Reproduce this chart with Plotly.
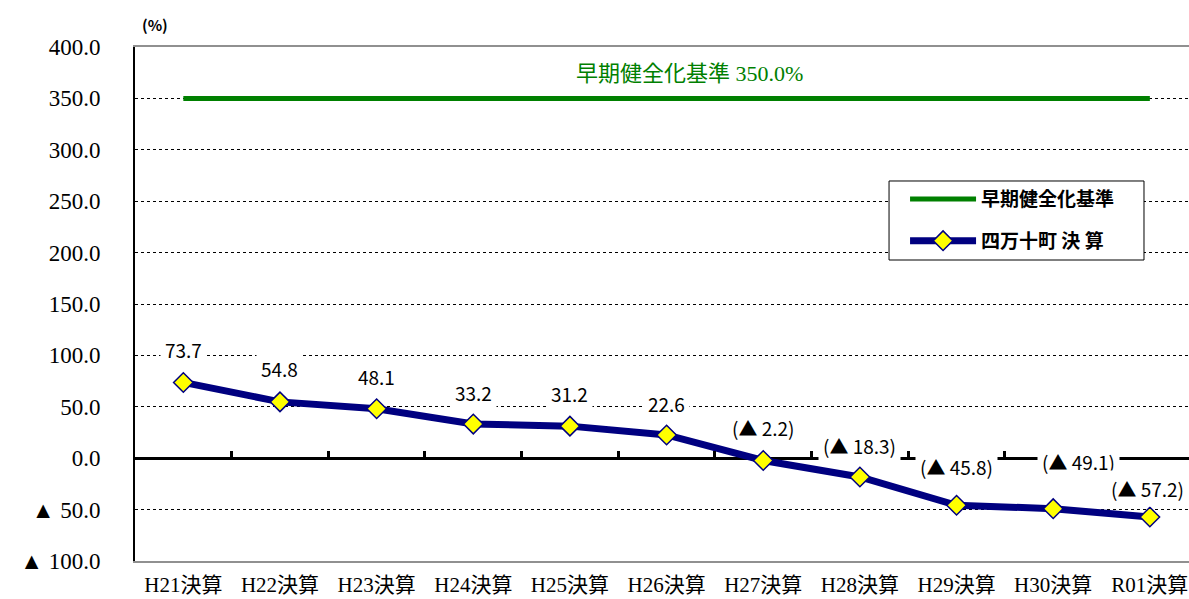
import plotly.graph_objects as go

categories = ["H21決算", "H22決算", "H23決算", "H24決算", "H25決算", "H26決算",
              "H27決算", "H28決算", "H29決算", "H30決算", "R01決算"]
town_values = [73.7, 54.8, 48.1, 33.2, 31.2, 22.6, -2.2, -18.3, -45.8, -49.1, -57.2]
criterion_values = [350.0] * len(categories)
criterion_name = "早期健全化基準"
town_name = "四万十町 決 算"
criterion_label = "早期健全化基準 350.0%"
y_tick_values = [-100, -50, 0, 50, 100, 150, 200, 250, 300, 350, 400]

# label placement offsets (pixels), as laid out in the original chart
label_yshift = [33, 33, 32, 32, 33, 31, 33, 32, 39, 47, 29]
label_xshift = [0, 0, 0, 0, 0, 0, 0, 0, 0, 25, -2]


def fmt_tick(v):
    return f"▲ {abs(v):.1f}" if v < 0 else f"{v:.1f}"


def fmt_label(v):
    return f"(▲ {abs(v):.1f})" if v < 0 else f"{v:.1f}"


idx = list(range(len(categories)))
SERIF = "Liberation Serif, 'Noto Sans CJK JP', serif"
GOTHIC = "'Noto Sans CJK JP', sans-serif"

fig = go.Figure()
fig.add_trace(go.Scatter(
    x=idx, y=criterion_values, mode="lines", name=criterion_name,
    line=dict(color="#008000", width=5), legendgroup="a", hoverinfo="skip"))
fig.add_trace(go.Scatter(
    x=idx, y=town_values, mode="lines+markers", name=town_name,
    line=dict(color="#000080", width=7),
    marker=dict(symbol="diamond", size=15, color="#FFFF00",
                line=dict(color="#000080", width=1.5)),
    legendgroup="b", hoverinfo="skip"))
# invisible trace to host the zero-line category tick axis
fig.add_trace(go.Scatter(x=idx, y=town_values, xaxis="x2", mode="markers",
                         marker=dict(opacity=0), showlegend=False, hoverinfo="skip"))

annotations = []
for i, v, dy, dx in zip(idx, town_values, label_yshift, label_xshift):
    annotations.append(dict(
        x=i, y=v, xref="x", yref="y", text=fmt_label(v), showarrow=False,
        yshift=dy, xshift=dx, bgcolor="white", borderpad=4,
        font=dict(family=GOTHIC, size=19, color="#000000")))
annotations.append(dict(
    x=5.24, y=criterion_values[0], xref="x", yref="y", text=criterion_label,
    showarrow=False, yshift=25,
    font=dict(family=SERIF, size=22, color="#008000")))
annotations.append(dict(
    x=0.019, y=1.043, xref="paper", yref="paper", text="(%)", showarrow=False,
    xanchor="center", yanchor="middle",
    font=dict(family=GOTHIC, size=15, color="#000000", weight="bold")))

# legend frame
shapes = [dict(type="rect", xref="paper", yref="paper",
               x0=0.7154, x1=0.9573, y0=0.5856, y1=0.7393,
               fillcolor="white", line=dict(color="#000000", width=1),
               layer="above")]

x_range = [-0.5, 10.405]

fig.update_layout(
    width=1189, height=599,
    margin=dict(l=135, r=0, t=47, b=38),
    paper_bgcolor="white", plot_bgcolor="white",
    showlegend=True,
    legend=dict(
        x=0.7306, y=0.741, xanchor="left", yanchor="top",
        bgcolor="rgba(0,0,0,0)", borderwidth=0,
        font=dict(family=GOTHIC, size=19, color="#000000", weight="bold"),
        itemwidth=66, traceorder="grouped", tracegroupgap=14),
    xaxis=dict(
        range=x_range, tickmode="array", tickvals=idx, ticktext=categories,
        showgrid=False, zeroline=False, showline=True, linecolor="#909090",
        linewidth=2, mirror=True, ticks="", ticklabelstandoff=4,
        automargin=False,
        tickfont=dict(family=SERIF, size=21, color="#000000")),
    xaxis2=dict(
        overlaying="x", anchor="free", position=0.2, side="bottom",
        range=x_range, tickmode="array",
        tickvals=[i - 0.5 for i in idx], showticklabels=False,
        ticks="inside", ticklen=7, tickwidth=2.5, tickcolor="#000000",
        showgrid=False, zeroline=False, showline=False),
    yaxis=dict(
        range=[-100, 400], tickmode="array", tickvals=y_tick_values,
        ticktext=[fmt_tick(v) for v in y_tick_values],
        showgrid=True, gridcolor="#000000", gridwidth=1, griddash="dot",
        zeroline=True, zerolinecolor="#000000", zerolinewidth=3,
        showline=True, linecolor="#000000", linewidth=2, ticks="",
        ticklabelstandoff=28, automargin=False,
        tickfont=dict(family=SERIF, size=23, color="#000000")),
    annotations=annotations,
    shapes=shapes,
)

fig.write_html(
    "out.html",
    config={"displayModeBar": False},
    post_script="document.body.style.margin='0';"
                "document.documentElement.style.overflow='hidden';")
